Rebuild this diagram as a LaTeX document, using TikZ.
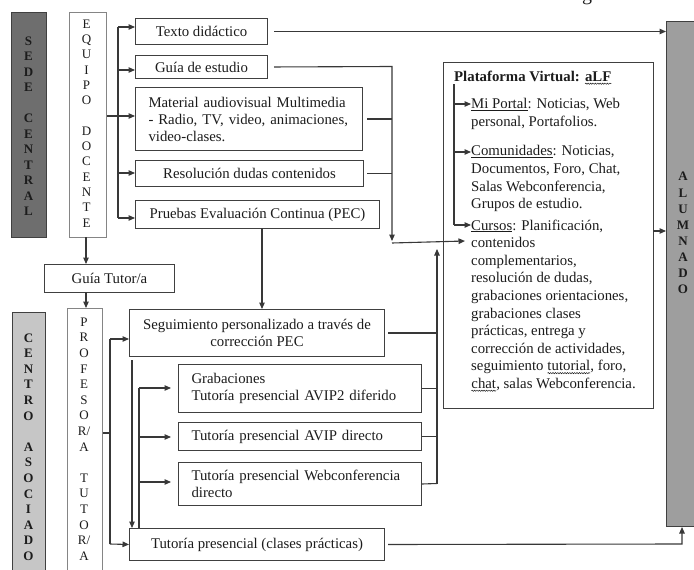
\documentclass[tikz,border=0pt]{standalone}
\usepackage{fontspec}
\setmainfont{Liberation Serif}
\usetikzlibrary{arrows.meta,decorations.pathmorphing}
\definecolor{ln}{HTML}{383838}
\definecolor{bd}{HTML}{404040}
\definecolor{bdl}{HTML}{858585}
\definecolor{txt}{HTML}{1C1C1C}
\definecolor{sedefill}{HTML}{6E6E6E}
\definecolor{alufill}{HTML}{9E9E9E}
\definecolor{cenfill}{HTML}{C6C6C6}
\newcommand\wavyul[1]{\tikz[baseline=(W.base),x=1cm,y=1cm]{\node[inner sep=0pt,outer sep=0pt](W){#1};\draw[draw=txt,line width=0.5pt,decorate,decoration={snake,amplitude=0.6pt,segment length=2.4pt}] ([yshift=-2.2pt]W.base west) -- ([yshift=-2.2pt]W.base east);}}
\newcommand\ul[1]{\underline{#1}}
\begin{document}
\begin{tikzpicture}[x=1pt,y=-1pt,
  every node/.style={text=txt},
  box/.style={draw=bd, line width=1pt, fill=white, inner sep=0pt, anchor=north west,
    font=\fontsize{14.8}{17}\selectfont},
  lbox/.style={box, align=left, inner xsep=13pt},
  vbar/.style={draw=bdl, line width=1pt, inner sep=0pt, anchor=north west},
  vlet/.style={align=center, inner sep=0pt, anchor=north},
  ptext/.style={font=\fontsize{14.8}{17.6}\selectfont, align=left, inner sep=0pt, anchor=north west},
  conn/.style={draw=ln, line width=1.1pt},
  arr/.style={conn, -{Triangle[length=6.5pt,width=5.5pt]}},
]
\useasboundingbox (0,0) rectangle (694,570);

% fragment of cropped caption
\node[anchor=base, inner sep=0pt, font=\fontsize{20}{20}\selectfont] (gfrag) at (587,0.8) {g};

% left columns
\node[vbar, draw=bd, fill=sedefill, minimum width=35pt, minimum height=225pt] (sede) at (11,12) {};
\node[vlet, font=\fontsize{13}{15.5}\selectfont\bfseries] (sedetxt) at (28.5,36.5) {S\\E\\D\\E\\\mbox{}\\C\\E\\N\\T\\R\\A\\L};
\node[vbar, fill=white, minimum width=37pt, minimum height=225pt] (equipo) at (69,12) {};
\node[vlet, font=\fontsize{13}{15.3}\selectfont] (equipotxt) at (86.5,19.5) {E\\Q\\U\\I\\P\\O\\\mbox{}\\D\\O\\C\\E\\N\\T\\E};

\node[vbar, draw=bd, fill=cenfill, minimum width=33pt, minimum height=270pt] (centro) at (12,312) {};
\node[vlet, font=\fontsize{13}{15.6}\selectfont\bfseries] (centrotxt) at (28.5,333.3) {C\\E\\N\\T\\R\\O\\\mbox{}\\A\\S\\O\\C\\I\\A\\D\\O};
\node[vbar, fill=white, minimum width=35pt, minimum height=275pt] (profesora) at (67,308) {};
\node[vlet, font=\fontsize{13}{15.6}\selectfont] (proftxt) at (84,317.5) {P\\R\\O\\F\\E\\S\\O\\R/\\A\\\mbox{}\\T\\U\\T\\O\\R/\\A};

% right column
\node[vbar, draw=bd, fill=alufill, minimum width=40pt, minimum height=505pt] (alumnado) at (666,21) {};
\node[vlet, font=\fontsize{13}{16.1}\selectfont\bfseries] (alutxt) at (683,172.2) {A\\L\\U\\M\\N\\A\\D\\O};

% upper boxes
\node[box, minimum width=132pt, minimum height=26pt] (texto) at (135,18) {Texto didáctico};
\node[box, minimum width=132pt, minimum height=23pt] (guia) at (135,55) {Guía de estudio};
\node[lbox, minimum width=227pt, minimum height=63pt, text width=201pt] (material) at (135,87) {Material audiovisual Multimedia\\- Radio, TV, video, animaciones,\\video-clases.};
\node[box, minimum width=228pt, minimum height=26pt] (resol) at (135,160) {Resolución dudas contenidos};
\node[box, minimum width=244pt, minimum height=28pt] (pruebas) at (135,200) {Pruebas Evaluación Continua (PEC)};
\node[box, minimum width=130pt, minimum height=28pt] (guiatutor) at (44,264) {Guía Tutor/a};

% lower boxes
\node[box, align=center, minimum width=255pt, minimum height=47pt] (segui) at (129,309) {Seguimiento personalizado a través de\\corrección PEC};
\node[lbox, minimum width=243pt, minimum height=48pt, text width=217pt] (grab) at (178,364) {Grabaciones\\Tutoría presencial AVIP2 diferido};
\node[lbox, minimum width=243pt, minimum height=28pt, text width=217pt] (avip) at (178,422) {Tutoría presencial AVIP directo};
\node[lbox, minimum width=243pt, minimum height=43pt, text width=217pt] (webconf) at (178,462) {Tutoría presencial Webconferencia\\directo};
\node[box, minimum width=255pt, minimum height=32pt] (clases) at (129,528) {Tutoría presencial (clases prácticas)};

% plataforma
\node[box, minimum width=210pt, minimum height=346pt] (plat) at (443,62) {};
\node[ptext, anchor=base west] (plattitle) at (454,81.5) {\bfseries Plataforma Virtual: \wavyul{aLF}};
\node[ptext] (miportal) at (471,98.5) {\ul{Mi Portal}: Noticias, Web\\personal, Portafolios.};
\node[ptext] (comun) at (471,145.5) {\ul{Comunidades}: Noticias,\\Documentos, Foro, Chat,\\Salas Webconferencia,\\Grupos de estudio.};
\node[ptext] (cursos) at (471,219.5) {\ul{Cursos}: Planificación,\\contenidos\\complementarios,\\resolución de dudas,\\grabaciones orientaciones,\\grabaciones clases\\prácticas, entrega y\\corrección de actividades,\\seguimiento \wavyul{tutorial}, foro,\\\wavyul{chat}, salas Webconferencia.};

% --- connectors: equipo docente
\coordinate (t1) at (118,27);
\coordinate (t2) at (118,70);
\coordinate (t3) at (118,116);
\coordinate (t4) at (118,173);
\coordinate (t5) at (118,218);
\draw[conn] (t1) -- (t5);
\draw[conn] (equipo.east |- t3) -- (t3);
\draw[arr] (t1) -- (t1 -| texto.west);
\draw[arr] (t2) -- (t2 -| guia.west);
\draw[arr] (t3) -- (t3 -| material.west);
\draw[arr] (t4) -- (t4 -| resol.west);
\draw[arr] (t5) -- (t5 -| pruebas.west);

\coordinate (eq) at (86,237);
\draw[arr] (eq) -- (eq |- guiatutor.north);
\coordinate (gt) at (86,292);
\draw[arr] (gt) -- (gt |- profesora.north);

% texto -> alumnado
\draw[arr, shorten <=6pt] (texto.east) -- (texto.east -| alumnado.west);

% guia, material, resolucion -> cursos
\coordinate (g1) at (392,66.5);
\coordinate (g2) at (392,241);
\draw[arr, shorten <=6pt] (guia.east) -- (g1) -- (g2);
\draw[conn, shorten <=4pt] (material.east) -- (material.east -| g1);
\draw[conn, shorten <=3pt] (resol.east) -- (resol.east -| g1);
\coordinate (c0) at (392,243);
\coordinate (c1) at (465,241);
\draw[arr] (c0) -- (c1);

% pruebas -> seguimiento
\coordinate (pr) at (262,228);
\draw[arr] (pr) -- (pr |- segui.north);

% lower right collector
\coordinate (u0) at (437,483.5);
\coordinate (u1) at (437,249);
\draw[arr] (u0) -- (u1);
\draw[conn, shorten <=3pt] (segui.east) -- (segui.east -| u0);
\draw[conn] (grab.east) -- (grab.east -| u0);
\draw[conn] (avip.east) -- (avip.east -| u0);
\draw[conn] (webconf.east) -- (u0);

% plataforma -> alumnado
\coordinate (p1) at (653,231);
\draw[arr] (p1) -- (p1 -| alumnado.west);

% clases -> alumnado
\coordinate (b1) at (682,544);
\draw[arr, shorten <=3pt] (clases.east) -- (b1) -- (b1 |- alumnado.south);

% profesora tutora branches
\coordinate (q0) at (110,433);
\coordinate (q1) at (110,339);
\coordinate (q2) at (110,544);
\draw[conn] (profesora.east |- q0) -- (q0);
\draw[conn] (q1) -- (q2);
\draw[arr] (q1) -- (q1 -| segui.west);
\draw[arr] (q2) -- (clases.west);

% seguimiento -> clases
\coordinate (s0) at (132,360);
\draw[arr] (s0) -- (s0 |- clases.north);

% clases -> tutorias
\coordinate (i0) at (139,388);
\coordinate (i1) at (139,437);
\coordinate (i2) at (139,482);
\draw[conn] (i0) -- (i0 |- clases.north);
\draw[arr, shorten >=7pt] (i0) -- (i0 -| grab.west);
\draw[arr, shorten >=7pt] (i1) -- (i1 -| avip.west);
\draw[arr, shorten >=7pt] (i2) -- (i2 -| webconf.west);

% plataforma internal arrows
\coordinate (v0) at (454,84);
\coordinate (v1) at (454,104);
\coordinate (v2) at (454,152);
\coordinate (v3) at (454,225);
\draw[conn] (v0) -- (v3);
\draw[arr] (v1) -- (v1 -| miportal.west);
\draw[arr] (v2) -- (v2 -| comun.west);
\draw[arr] (v3) -- (v3 -| cursos.west);
\end{tikzpicture}
\end{document}
